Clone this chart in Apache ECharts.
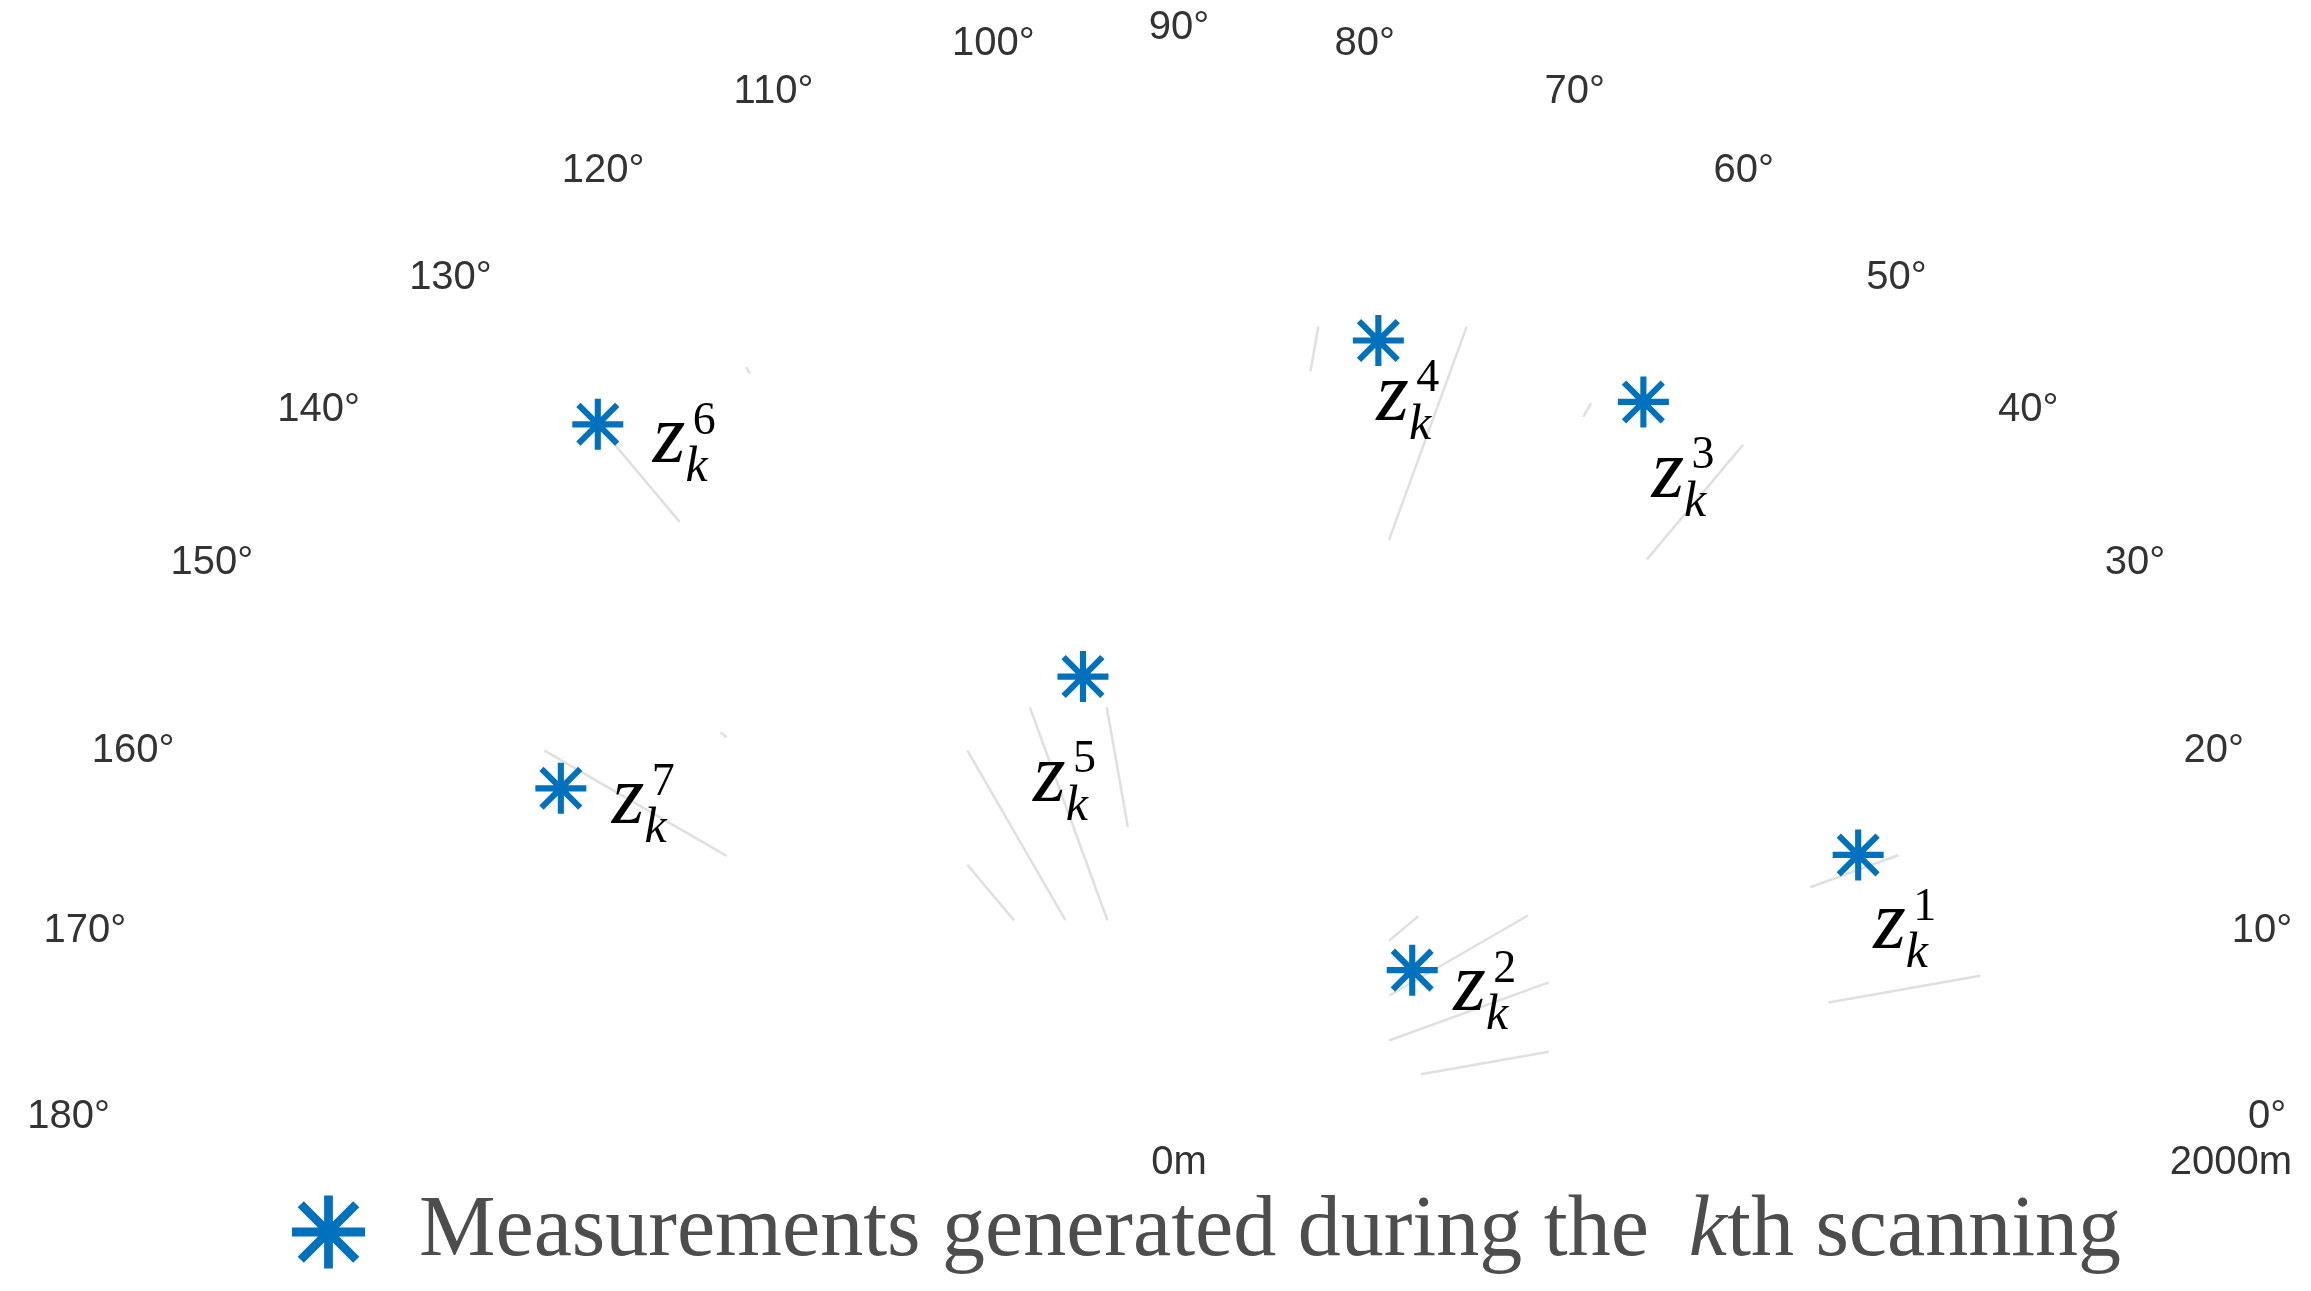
<!DOCTYPE html>
<html>
<head>
<meta charset="utf-8">
<script src="https://cdn.jsdelivr.net/npm/echarts@6/dist/echarts.min.js"></script>
<style>
  html, body { margin: 0; padding: 0; background: #fff; }
  #chart { width: 2311px; height: 1291px; }
</style>
</head>
<body>
<div id="chart"></div>
<script>
// measurements of the kth scan: range (m) and bearing (deg)
var measIndex = [1, 2, 3, 4, 5, 6, 7];
var measRange = [1384, 524, 1621, 1524, 857, 1719, 1331];
var measAngle = [21.1, 32.2, 57.0, 75.6, 102.3, 130.0, 152.0];

// faint radial segments: bearing, start range, end range
var segAngle = [10, 10, 20, 20, 30, 40, 50, 60, 70, 80, 100, 110, 120, 120, 130, 130, 140, 150];
var segFrom = [1254, 467, 1277, 425, 462, 521, 1384, 1537, 1167, 1439, 560, 398, 432, 1632, 488, 1477, 1123, 993];
var segTo = [1547, 714, 1455, 748, 766, 594, 1668, 1567, 1599, 1526, 791, 829, 805, 1646, 626, 1700, 1138, 1393];

// axis ticks
var angleMin = 0, angleMax = 180, angleStep = 10;
var rangeMin = 0, rangeMax = 2000;

var LEGEND_NAME = 'Measurements generated during the kth scanning';
var STAR = 'path://M0 44L100 44L100 56L0 56Z M44 0L56 0L56 100L44 100Z ' +
  'M16.2 7.8L92.2 83.8L83.8 92.2L7.8 16.2Z M83.8 7.8L92.2 16.2L16.2 92.2L7.8 83.8Z';

// where each z label sits relative to its star (px)
var labelOffset = [[15, 35], [41, -18], [8, 37], [-2, 21], [-50, 66], [55, -20], [51, -23]];

var chart = echarts.init(document.getElementById('chart'));

var series = segAngle.map(function(a, i) {
  return {
    type: 'line',
    coordinateSystem: 'polar',
    data: [[segFrom[i], a], [segTo[i], a]],
    symbol: 'none',
    silent: true,
    z: 1,
    lineStyle: { color: '#e0e0e0', width: 2.5 }
  };
});

series.push({
  name: LEGEND_NAME,
  type: 'scatter',
  coordinateSystem: 'polar',
  symbol: STAR,
  symbolSize: 51,
  z: 3,
  itemStyle: { color: '#0072BD', opacity: 1 },
  data: measRange.map(function(r, i) {
    return { value: [r, measAngle[i]], label: { offset: labelOffset[i] } };
  }),
  label: {
    show: true,
    position: 'inside',
    align: 'left',
    verticalAlign: 'top',
    formatter: function(p) {
      return '{sp| }{u|' + measIndex[p.dataIndex] + '}\n{z|z}{k|k}';
    },
    rich: {
      sp: { width: 40, height: 35, lineHeight: 35 },
      u: { fontSize: 46, lineHeight: 35, fontFamily: 'Liberation Serif', color: '#000' },
      z: {
        fontSize: 84, lineHeight: 2, height: 2, verticalAlign: 'top',
        fontStyle: 'italic', fontFamily: 'Liberation Serif', color: '#000'
      },
      k: { fontSize: 50, lineHeight: 58, fontStyle: 'italic', fontFamily: 'Liberation Serif', color: '#000' }
    }
  }
});

chart.setOption({
  animation: false,
  backgroundColor: '#fff',
  polar: { center: [1179, 1117], radius: 1052 },
  angleAxis: {
    type: 'value',
    min: angleMin,
    max: angleMax,
    interval: angleStep,
    startAngle: 0,
    endAngle: 180,
    clockwise: false,
    axisLine: { show: false },
    axisTick: { show: false },
    splitLine: { show: false },
    axisLabel: {
      margin: 17,
      formatter: function(v) {
        // 20 and 160 sit lower in the original, level with the bearing
        return v === 20 || v === 160 ? '{low|' + v + '°}' : v + '°';
      },
      fontFamily: 'Liberation Sans',
      fontSize: 40,
      color: '#333',
      rich: {
        low: { fontFamily: 'Liberation Sans', fontSize: 40, color: '#333', lineHeight: 1 }
      }
    }
  },
  radiusAxis: {
    type: 'value',
    min: rangeMin,
    max: rangeMax,
    interval: rangeMax - rangeMin,
    axisLine: { show: false },
    axisTick: { show: false },
    splitLine: { show: false },
    axisLabel: {
      margin: -26,
      verticalAlign: 'top',
      formatter: function(v) { return v + 'm'; },
      fontFamily: 'Liberation Sans',
      fontSize: 40,
      color: '#333'
    }
  },
  legend: {
    data: [LEGEND_NAME],
    left: 292,
    top: 1189,
    padding: 0,
    selectedMode: false,
    icon: STAR,
    itemWidth: 73,
    itemHeight: 80,
    formatter: function() {
      return '{p|Measurements generated during the}{k|k}{a|th scanning}';
    },
    textStyle: {
      rich: {
        p: { fontSize: 86, lineHeight: 80, fontFamily: 'Liberation Serif', color: '#4d4d4d', padding: [0, 0, 0, 49] },
        k: { fontSize: 86, lineHeight: 80, fontFamily: 'Liberation Serif', fontStyle: 'italic', color: '#4d4d4d', padding: [0, 0, 0, 40] },
        a: { fontSize: 86, lineHeight: 80, fontFamily: 'Liberation Serif', color: '#4d4d4d' }
      }
    }
  },
  series: series
});
</script>
</body>
</html>
